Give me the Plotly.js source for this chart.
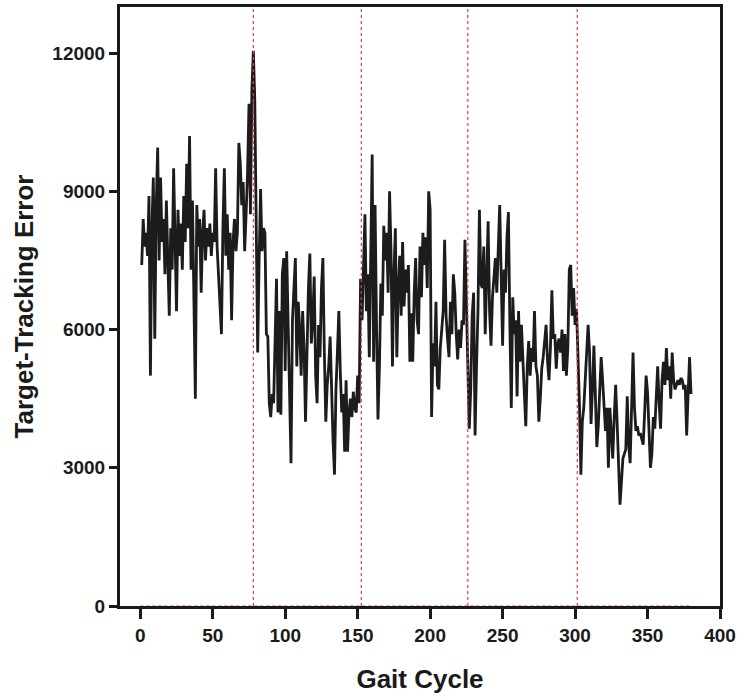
<!DOCTYPE html>
<html>
<head>
<meta charset="utf-8">
<script src="https://cdn.plot.ly/plotly-3.0.1.min.js"></script>
<style>
  html, body { margin: 0; padding: 0; background: #fff; }
  #plotDiv { width: 745px; height: 700px; }
</style>
</head>
<body>
<div id="plotDiv"></div>
<script>
// target-tracking error per gait cycle
const trackingError = [
    7400, 8400, 7800, 8100, 7600, 8900, 5000, 8200, 9300, 5800,
    8700, 9950, 7500, 9300, 7900, 8400, 7200, 8800, 7500, 6300,
    8200, 7300, 9500, 8000, 6400, 8600, 7600, 8300, 7300, 8900,
    7900, 9600, 8200, 10200, 7300, 8800, 7000, 4500, 8700, 7800,
    8400, 6800, 8100, 8600, 7500, 8200, 7800, 8300, 7600, 8100,
    7900, 9500, 7800, 7200, 6700, 5900, 8200, 9500, 7600, 8500,
    7300, 8100, 6200, 7900, 8400, 7700, 8100, 10050, 9600, 8700,
    9200, 7700, 8500, 9400, 10900, 8500, 11200, 12050, 11000, 8700,
    5500, 7500, 9050, 7700, 8200, 8100, 5900, 5850, 4400, 4100,
    4600, 4400, 5600, 7100, 4200, 6400, 4150, 7200, 7550, 5100,
    7700, 6300, 4500, 3100, 6200, 6900, 7550, 5200, 6600, 6000,
    5000, 6400, 5600, 4000, 5800, 6900, 7650, 5700, 6200, 7150,
    5000, 4400, 6100, 5400, 6900, 7550, 5500, 4000, 4800, 5200,
    5850, 4500, 3600, 2850, 4700, 5500, 6400, 5100, 4200, 4600,
    3350, 4900, 3350, 4200, 4500, 4100, 4650, 4300, 4200, 5000,
    4400, 7100, 6200, 7300, 8500, 6400, 7200, 5400, 7600, 9800,
    5300, 8700, 6100, 4050, 5200, 7000, 6300, 8250, 7500, 8100,
    6800, 9000, 7700, 5200, 7200, 8200, 5400, 6900, 7600, 6300,
    7900, 6500, 7300, 6800, 7400, 5300, 6350, 5300, 6800, 7550,
    6200, 5900, 7800, 6700, 8100, 7400, 8000, 6900, 9000, 8600,
    4100, 5700, 5200, 6600, 4800, 4700, 5600, 6100, 6400, 7950,
    6300, 5800, 5400, 6600, 5900, 7200, 6800, 5900, 5350, 6000,
    5600, 6200, 6100, 7950, 6300, 4800, 3850, 4700, 6300, 6800,
    3700, 5200, 6400, 8600, 7000, 6900, 7800, 5900, 7300, 8350,
    6400, 5650, 6700, 7100, 7550, 6800, 7600, 8700, 7200, 5650,
    7300, 6800, 8000, 8550, 6100, 4300, 6700, 5900, 6200, 4550,
    6400, 5300, 6100, 5500, 4600, 3900, 5200, 5750, 5000, 5600,
    5300, 6400, 5200, 5000, 4000, 4500, 5150, 5400, 5700, 6100,
    5300, 4900, 5600, 6850, 5800, 5900, 5150, 5700, 5800, 5500,
    6000, 5100, 5900, 5000, 5600, 7300, 7400, 6300, 6900, 6100,
    6450, 5600, 4400, 2850, 4000, 4300, 4900, 5800, 6100, 5500,
    3950, 4700, 5650, 4600, 3450, 3900, 4700, 5400, 4900, 4400,
    3800, 4300, 3000, 4300, 3700, 3200, 4100, 4800, 4000, 3200,
    2200, 2700, 3200, 3300, 3400, 4550, 3500, 3100, 4200, 5500,
    4300, 3800, 3900, 3700, 3750, 3600, 3500, 4200, 5000, 4650,
    3800, 3000, 3300, 4100, 3850, 4700, 5200, 4400, 3850, 4900,
    5300, 4800, 5600, 4900, 5200, 4500, 5500, 4900, 4700, 4800,
    4900, 4800, 4950, 4900, 4700, 4800, 3700, 4600, 5400, 4600
];
const gaitCycle = trackingError.map((v, i) => i + 1);

// phase boundaries (red dotted markers)
const phaseBounds = [78, 152.5, 226, 301.5];
const baselineRange = [0, 380];

const xTicks = [0, 50, 100, 150, 200, 250, 300, 350, 400];
const yTicks = [0, 3000, 6000, 9000, 12000];
const yTickText = ['0', '3000', '6000', '9000', '12000'];

const boldFont = {family: 'Liberation Sans, Arial, sans-serif', color: '#1a1a1a', weight: 'bold'};

const traceError = {
    x: gaitCycle,
    y: trackingError,
    mode: 'lines',
    name: 'Target-Tracking Error',
    line: {color: '#1c1c1c', width: 2.8},
    hoverinfo: 'x+y'
};

const shapes = phaseBounds.map(b => ({
    type: 'line', xref: 'x', yref: 'y',
    x0: b, x1: b, y0: 0, y1: 13000,
    line: {color: '#ec3c3c', width: 1.2, dash: 'dot'},
    layer: 'above'
}));
shapes.push({
    type: 'line', xref: 'x', yref: 'y',
    x0: baselineRange[0], x1: baselineRange[1], y0: 0, y1: 0,
    line: {color: '#ec3c3c', width: 1.2, dash: 'dot'},
    layer: 'above'
});

const layout = {
    width: 745,
    height: 700,
    margin: {l: 120, r: 25, t: 7, b: 94},
    paper_bgcolor: '#ffffff',
    plot_bgcolor: '#ffffff',
    showlegend: false,
    xaxis: {
        range: [-14, 400],
        tickvals: xTicks,
        ticks: 'outside',
        ticklen: 10,
        tickwidth: 3,
        tickcolor: '#1a1a1a',
        showline: true,
        linewidth: 3,
        linecolor: '#1a1a1a',
        mirror: true,
        showgrid: false,
        zeroline: false,
        tickfont: Object.assign({size: 19}, boldFont),
        title: {text: 'Gait Cycle', font: Object.assign({size: 26}, boldFont), standoff: 26}
    },
    yaxis: {
        range: [0, 13000],
        tickvals: yTicks,
        ticktext: yTickText,
        ticks: 'outside',
        ticklen: 8,
        tickwidth: 3,
        tickcolor: '#1a1a1a',
        showline: true,
        linewidth: 3,
        linecolor: '#1a1a1a',
        mirror: true,
        showgrid: false,
        zeroline: false,
        ticklabelstandoff: 0,
        tickfont: Object.assign({size: 19}, boldFont),
        title: {text: 'Target-Tracking Error', font: Object.assign({size: 26}, boldFont), standoff: 12}
    },
    shapes: shapes
};

Plotly.newPlot('plotDiv', [traceError], layout, {displayModeBar: false, responsive: false}).catch(error => {
    console.error('Error in plot:', error);
});
</script>
</body>
</html>
